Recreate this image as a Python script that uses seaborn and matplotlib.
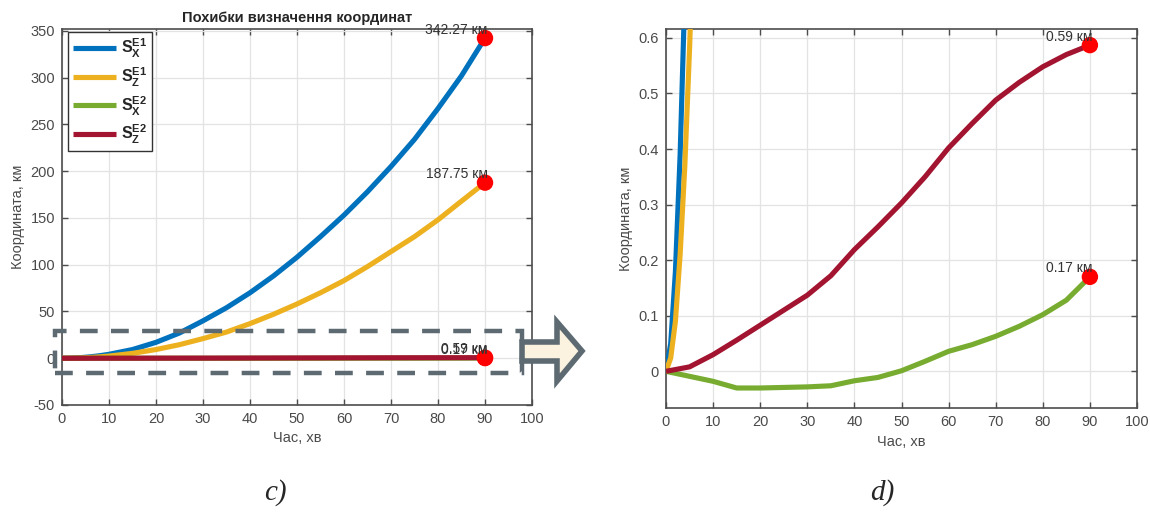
import matplotlib
matplotlib.use("Agg")
import matplotlib.pyplot as plt
import seaborn as sns
from matplotlib.patches import Rectangle, Polygon

# ---------------- data ----------------
time_e1 = [0, 1, 2, 3, 4, 5, 6, 7, 8, 10, 15, 20, 25, 30, 35, 40, 45, 50,
           55, 60, 65, 70, 75, 80, 85, 90]
sx_e1 = [0, 0.05, 0.18, 0.39, 0.68, 1.05, 1.5, 2.1, 2.7, 4.2, 9.3, 17, 27,
         40, 54, 70, 88, 108, 130, 153, 178, 205, 234, 267, 302, 342.27]
sz_e1 = [0, 0.024, 0.09, 0.21, 0.37, 0.58, 0.83, 1.14, 1.48, 2.3, 5.2, 9.3,
         14.5, 21, 28, 37, 47, 58, 70, 83, 98, 114, 130, 148, 168, 187.75]

time_e2 = [0, 5, 10, 15, 20, 25, 30, 35, 40, 45, 50, 55, 60, 65, 70, 75, 80,
           85, 90]
sx_e2 = [0, -0.009, -0.018, -0.030, -0.030, -0.029, -0.028, -0.026, -0.017,
         -0.011, 0.001, 0.018, 0.036, 0.048, 0.063, 0.081, 0.102, 0.128, 0.17]
sz_e2 = [0, 0.008, 0.03, 0.056, 0.083, 0.11, 0.137, 0.172, 0.219, 0.26,
         0.303, 0.35, 0.402, 0.446, 0.488, 0.52, 0.548, 0.57, 0.587]

series_labels = [r"$\mathsf{S_X^{E1}}$", r"$\mathsf{S_Z^{E1}}$",
                 r"$\mathsf{S_X^{E2}}$", r"$\mathsf{S_Z^{E2}}$"]
end_labels = ["342.27 км", "187.75 км", "0.17 км", "0.59 км"]
x_ticks = list(range(0, 101, 10))
y_ticks_left = list(range(-50, 351, 50))
y_ticks_right = [0, 0.1, 0.2, 0.3, 0.4, 0.5, 0.6]
y_ticklabels_right = ["0", "0.1", "0.2", "0.3", "0.4", "0.5", "0.6"]

title = "Похибки визначення координат"
xlabel = "Час, хв"
ylabel = "Координата, км"

# ---------------- style ----------------
sns.set_style("white")
plt.rcParams["font.family"] = ["Liberation Sans", "DejaVu Sans"]
plt.rcParams["mathtext.fontset"] = "custom"
plt.rcParams["mathtext.sf"] = "Liberation Sans:bold"
plt.rcParams["mathtext.rm"] = "Liberation Sans"
plt.rcParams["axes.unicode_minus"] = False

colors = ["#0072BD", "#EDB120", "#77AC30", "#A2142F"]
tick_color = "#4a4a4a"
spine_color = "#4d4d4d"
lw = 3.7

W, H = 1150, 513
fig = plt.figure(figsize=(W / 100, H / 100), dpi=100)


def px_axes(x0, y0, x1, y1):
    return fig.add_axes([x0 / W, 1 - y1 / H, (x1 - x0) / W, (y1 - y0) / H])


ax1 = px_axes(62, 29, 532, 405)
ax2 = px_axes(666, 29, 1137, 408)

all_series = [(time_e1, sx_e1), (time_e1, sz_e1), (time_e2, sx_e2), (time_e2, sz_e2)]

for ax in (ax1, ax2):
    for (t, v), c, lab in zip(all_series, colors, series_labels):
        sns.lineplot(x=t, y=v, color=c, linewidth=lw, ax=ax, label=lab,
                     sort=False, solid_capstyle="butt", zorder=3)
    ends_x = [t[-1] for t, v in all_series]
    ends_y = [v[-1] for t, v in all_series]
    sns.scatterplot(x=ends_x, y=ends_y, color="#FF0000", s=140,
                    edgecolor="none", ax=ax, zorder=5, legend=False)
    ax.set_xlim(0, 100)
    ax.set_xticks(x_ticks)
    ax.grid(True, color="#e3e3e3", linewidth=0.9)
    ax.tick_params(direction="in", length=4, width=1, colors=spine_color,
                   labelcolor=tick_color, labelsize=10.5,
                   top=True, right=True, bottom=True, left=True, pad=5)
    for s in ax.spines.values():
        s.set_color(spine_color)
        s.set_linewidth(1.2)
    ax.set_xlabel(xlabel, fontsize=10.5, color=tick_color, labelpad=4)
    ax.set_ylabel(ylabel, fontsize=10.5, color=tick_color, labelpad=4)

ax1.set_ylim(-50, 352)
ax1.set_yticks(y_ticks_left)
ax1.set_title(title, fontsize=10.5, fontweight="bold", pad=5)
leg = ax1.legend(loc="upper left", fontsize=11.5, frameon=True, fancybox=False,
                 framealpha=1, edgecolor="#333333", handlelength=2.7,
                 labelspacing=0.35, borderpad=0.3, handletextpad=0.3,
                 borderaxespad=0, bbox_to_anchor=(0.013, 0.992))
leg.get_frame().set_linewidth(1.0)

ax2.set_ylim(-0.066, 0.616)
ax2.set_yticks(y_ticks_right)
ax2.set_yticklabels(y_ticklabels_right)
if ax2.get_legend() is not None:
    ax2.get_legend().remove()

# end-point value labels
for ax in (ax1, ax2):
    y0, y1 = ax.get_ylim()
    for (t, v), txt in zip(all_series, end_labels):
        if y0 <= v[-1] <= y1:
            ax.annotate(txt, (t[-1], v[-1]), xytext=(2, 1),
                        textcoords="offset points", ha="right", va="bottom",
                        fontsize=10, color="#333333", zorder=6,
                        annotation_clip=False)

# dashed zoom rectangle on the left panel
rect = Rectangle((-1.5, -16), 99.4, 45, fill=False, linestyle=(0, (4, 3)),
                 linewidth=3.2, edgecolor="#5d6a72", clip_on=False, zorder=7)
ax1.add_patch(rect)

# block arrow (annotation) in figure pixel coords
pts_px = [(522, 342), (557, 342), (557, 322), (582, 351), (557, 381),
          (557, 361), (522, 361)]
pts = [(x / W, 1 - y / H) for x, y in pts_px]
arrow = Polygon(pts, closed=True, facecolor="#fbf3df", edgecolor="#5d6a72",
                linewidth=4, transform=fig.transFigure, zorder=8)
fig.patches.append(arrow)

# panel letters
fig.text(275 / W, 1 - 493 / H, "c)", fontsize=21, style="italic",
         family="Liberation Serif", ha="center", va="center")
fig.text(882 / W, 1 - 493 / H, "d)", fontsize=21, style="italic",
         family="Liberation Serif", ha="center", va="center")

fig.savefig("out.png", dpi=100)
